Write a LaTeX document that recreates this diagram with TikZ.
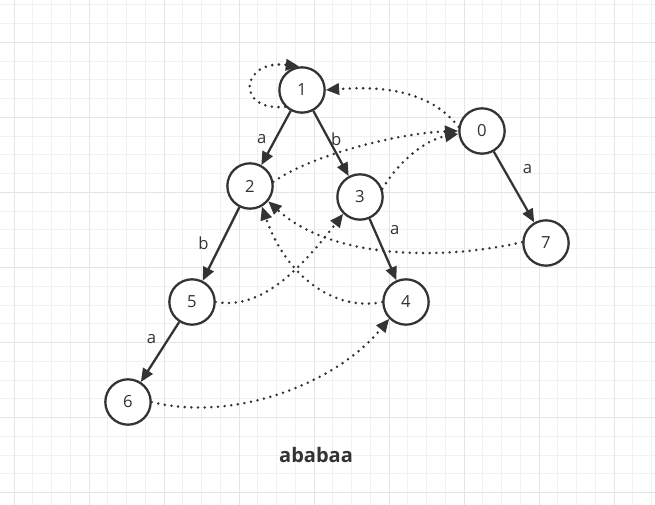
\documentclass[tikz,border=0pt]{standalone}
\usepackage{fontspec}
\setmainfont{Open Sans}
\usepackage{tikz}
\usetikzlibrary{arrows.meta}
\definecolor{ink}{HTML}{333333}
\definecolor{gridminor}{HTML}{F1F1F1}
\definecolor{gridmajor}{HTML}{E4E4E4}
\def\StateSize{34pt}
\def\TipLen{10pt}
\def\TipWid{8.5pt}

\begin{document}
\begin{tikzpicture}[x=0.75pt,y=0.75pt,
		state/.style={circle,draw=ink,fill=white,line width=1.7pt,minimum size=\StateSize,inner sep=0pt,text=ink,font=\fontsize{12.5}{14}\selectfont},
		trans/.style={draw=ink,line width=1.7pt,-{Triangle[length=\TipLen,width=\TipWid]}},
		fail/.style={draw=ink,line width=2.1pt,line cap=round,dash pattern=on 0pt off 5pt,-{Triangle[length=\TipLen,width=\TipWid]}},
		lbl/.style={text=ink,inner sep=1pt,font=\fontsize{12.5}{14}\selectfont}]
	\fill[white] (0,0) rectangle (655,-505);
	\useasboundingbox (0,0) rectangle (655,-505);
	% 
	\foreach \i in {0,...,34} \draw[gridminor,line width=0.75pt] ({14+18.75*\i},0) -- ++(0,-505);
	\foreach \j in {0,...,26} \draw[gridminor,line width=0.75pt] (0,{-5-18.75*\j}) -- ++(655,0);
	\foreach \i in {0,...,8} \draw[gridmajor,line width=0.75pt] ({14+75*\i},0) -- ++(0,-505);
	\foreach \j in {0,...,6} \draw[gridmajor,line width=0.75pt] (0,{-42.5-75*\j}) -- ++(655,0);
	% 
	\node[state] (n1) at (302,-90) {1};
	\node[state] (n0) at (482,-131) {0};
	\node[state] (n2) at (250,-186) {2};
	\node[state] (n3) at (360,-197) {3};
	\node[state] (n7) at (546,-243) {7};
	\node[state] (n5) at (192,-302) {5};
	\node[state] (n4) at (406,-302) {4};
	\node[state] (n6) at (128,-402) {6};
	% 
	\draw[trans] (n1) -- node[lbl,pos=0.52,left=5pt] {a} (n2);
	\draw[trans] (n1) -- node[lbl,pos=0.43,right=0pt] {b} (n3);
	\draw[trans] (n0) -- node[lbl,pos=0.24,right=12.6pt] {a} (n7);
	\draw[trans] (n3) -- node[lbl,pos=0.19,right=9.8pt] {a} (n4);
	\draw[trans] (n2) -- node[lbl,pos=0.49,left=7.7pt] {b} (n5);
	\draw[trans] (n5) -- node[lbl,pos=0.28,left=7.3pt] {a} (n6);
	% 
	\draw[fail] (n1.225) .. controls +(-50,-5) and +(-59,7) .. (n1.97);
	\draw[fail] (n0.170) .. controls +(-29,37) and +(55,4) .. (n1.east);
	\draw[fail] (n2.10) .. controls +(38,27) and +(-59,-2) .. (n0.180);
	\draw[fail] (n3.20) .. controls +(14,24) and +(-35,-6) .. (n0.187);
	\draw[fail] (n7.178) .. controls +(-83,-19) and +(62,-57) .. (n2.-40);
	\draw[fail] (n4.180) .. controls +(-48,-10) and +(24,-69) .. (n2.-60);
	\draw[fail] (n5.east) .. controls +(45,-8) and +(-44,-57) .. (n3.-135);
	\draw[fail] (n6.east) .. controls +(79,-20) and +(-55,-67) .. (n4.-135);
	% 
	\node[text=ink,font=\bfseries\fontsize{15}{17}\selectfont] (title) at (316,-455) {ababaa};
\end{tikzpicture}
\end{document}
